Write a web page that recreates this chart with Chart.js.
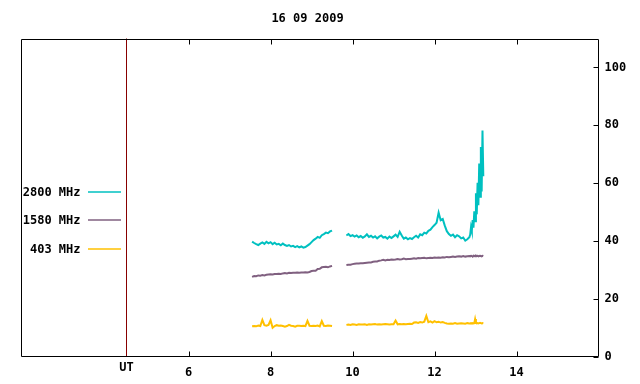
<!DOCTYPE html>
<html><head><meta charset="utf-8">
<script src="https://cdn.jsdelivr.net/npm/chart.js@4/dist/chart.umd.min.js"></script>
<style>html,body{margin:0;padding:0;background:#fff}#c{display:block}</style>
</head><body>
<canvas id="c" width="640" height="384"></canvas>
<script>
const chartTitle = "16 09 2009";
const seriesLabels = ["2800 MHz", "1580 MHz", "403 MHz"];
const xTickValues = [6, 8, 10, 12, 14];
const yTickValues = [0, 20, 40, 60, 80, 100];
const utMark = 4.47;
const xMin = 1.9, xMax = 16.0, yMin = 0, yMax = 110;

const times1 = [7.55,7.60,7.65,7.70,7.75,7.80,7.85,7.90,7.95,8.00,
8.05,8.10,8.15,8.20,8.25,8.30,8.35,8.40,8.45,8.50,
8.55,8.60,8.65,8.70,8.75,8.80,8.85,8.90,8.95,9.00,
9.05,9.10,9.15,9.20,9.25,9.30,9.35,9.40,9.45,9.50];
const times2 = [9.85,9.90,9.95,10.00,10.05,10.10,10.15,10.20,10.25,10.30,
10.35,10.40,10.45,10.50,10.55,10.60,10.65,10.70,10.75,10.80,
10.85,10.90,10.95,11.00,11.05,11.10,11.15,11.20,11.25,11.30,
11.35,11.40,11.45,11.50,11.55,11.60,11.65,11.70,11.75,11.80,
11.85,11.90,11.95,12.00,12.05,12.10,12.15,12.20,12.25,12.30,
12.35,12.40,12.45,12.50,12.55,12.60,12.65,12.70,12.75,12.80,
12.85,
12.87,12.89,12.91,12.93,12.95,12.97,12.99,13.01,13.03,13.05,
13.07,13.09,13.11,13.13,13.15,13.17,13.19];

const f2800a = [39.8,39.3,38.9,38.6,39.1,39.5,39.0,39.7,39.2,39.6,
38.9,39.4,38.8,39.0,38.5,39.1,38.6,38.3,38.6,38.1,
38.3,37.9,38.2,37.8,38.1,37.7,37.9,38.4,38.9,39.6,
40.3,40.8,41.4,41.1,42.0,42.4,42.9,42.7,43.3,43.6];
const f2800b = [41.9,42.4,41.7,42.0,41.5,41.9,41.3,41.7,41.1,41.6,
42.3,41.4,41.8,41.2,41.6,40.9,41.5,41.9,41.2,41.4,
40.8,41.5,41.0,41.6,42.2,41.4,43.2,41.9,40.8,41.2,
40.6,41.0,40.7,41.3,41.8,41.2,42.3,42.0,42.9,42.6,
43.5,43.9,44.8,45.5,46.3,49.8,47.2,47.6,45.3,43.4,
42.4,41.8,42.2,41.3,42.0,41.6,40.9,41.2,40.1,40.6,
41.3,
42.2,44.8,43.5,47.2,44.6,50.3,46.8,56.5,49.2,60.1,
52.4,66.8,55.3,72.5,57.1,78.2,62.4];

const f1580a = [27.6,27.9,27.8,28.1,28.0,28.2,28.1,28.3,28.4,28.5,
28.4,28.6,28.6,28.7,28.6,28.8,28.9,28.8,29.0,28.9,
29.0,29.0,29.1,29.0,29.1,29.1,29.2,29.1,29.3,29.6,
29.7,29.7,30.3,30.4,30.9,31.0,31.1,30.9,31.2,31.4];
const f1580b = [31.7,31.8,31.8,32.0,32.1,32.2,32.2,32.3,32.3,32.4,
32.5,32.6,32.6,32.8,32.9,32.9,33.2,33.3,33.5,33.3,
33.5,33.4,33.6,33.5,33.6,33.8,33.6,33.7,33.9,33.7,
33.8,33.8,33.9,34.0,33.9,34.1,34.0,34.1,34.2,34.0,
34.1,34.2,34.1,34.3,34.2,34.3,34.2,34.4,34.3,34.5,
34.4,34.5,34.6,34.5,34.6,34.7,34.6,34.8,34.6,34.7,
34.8,
34.7,34.9,34.8,34.6,34.9,34.8,34.7,34.9,34.8,34.9,
34.7,34.8,34.9,34.8,34.7,34.9,34.8];

const f403a = [10.5,10.6,10.5,10.8,10.6,12.7,10.9,10.7,11.0,12.6,
10.0,10.6,10.9,10.7,10.8,10.6,10.4,10.6,11.0,10.7,
10.6,10.4,10.7,10.7,10.6,10.7,10.6,12.4,10.7,10.6,
10.7,10.6,10.8,10.5,12.3,10.7,10.6,10.8,10.7,10.6];
const f403b = [11.0,11.1,11.0,11.2,11.1,11.0,11.2,11.1,11.1,11.2,
11.0,11.2,11.1,11.2,11.3,11.1,11.2,11.1,11.2,11.3,
11.2,11.1,11.2,11.2,12.5,11.2,11.3,11.2,11.3,11.2,
11.3,11.4,11.3,11.8,11.9,11.7,12.0,11.8,12.1,14.1,
11.9,12.2,11.8,12.3,11.9,12.1,11.8,12.0,11.7,11.5,
11.4,11.5,11.4,11.6,11.4,11.5,11.6,11.5,11.4,11.6,
11.5,
11.5,11.6,11.5,11.6,11.5,11.6,13.0,11.6,11.5,11.6,
11.5,11.6,11.7,11.6,11.5,11.6,11.5];

const colors = ["#00c0c0", "#806080", "#ffc000"];
const FONT = '"DejaVu Sans Mono", monospace';

function build(a, b) {
  const pts = times1.map((t, i) => ({x: t, y: a[i]}));
  pts.push({x: (times1[times1.length-1] + times2[0]) / 2, y: null});
  times2.forEach((t, i) => pts.push({x: t, y: b[i]}));
  return pts;
}

const decor = {
  id: 'decor',
  afterDraw(chart) {
    const ctx = chart.ctx, ca = chart.chartArea;
    const xs = chart.scales.x, ys = chart.scales.y;
    ctx.save();
    // UT line
    const ux = Math.round(xs.getPixelForValue(utMark)) + 0.5;
    ctx.strokeStyle = '#880000'; ctx.lineWidth = 1;
    ctx.beginPath(); ctx.moveTo(ux, ca.top); ctx.lineTo(ux, ca.bottom); ctx.stroke();
    // frame
    ctx.strokeStyle = '#000';
    ctx.beginPath();
    const L = Math.round(ca.left) + 0.5, R = Math.round(ca.right) - 0.5;
    const T = Math.round(ca.top) + 0.5, B = Math.round(ca.bottom) - 0.5;
    ctx.moveTo(L, B); ctx.lineTo(L, T); ctx.lineTo(R, T); ctx.lineTo(R, B); ctx.lineTo(L, B);
    ctx.stroke();
    // inward ticks
    ctx.beginPath();
    xTickValues.forEach(v => {
      const px = Math.round(xs.getPixelForValue(v)) + 0.5;
      ctx.moveTo(px, B); ctx.lineTo(px, B - 5);
      ctx.moveTo(px, T); ctx.lineTo(px, T + 5);
    });
    yTickValues.forEach(v => {
      const py = Math.round(ys.getPixelForValue(v)) + 0.5;
      ctx.moveTo(R, py); ctx.lineTo(R - 5, py);
    });
    ctx.stroke();
    // title
    ctx.fillStyle = '#000';
    ctx.font = 'bold 12px ' + FONT;
    ctx.textAlign = 'center'; ctx.textBaseline = 'middle';
    ctx.fillText(chartTitle, (ca.left + ca.right) / 2 - 2, 19);
    // UT label
    ctx.fillText('UT', ux, 368);
    // legend
    chart.data.datasets.forEach((ds, i) => {
      const y = ca.top + 153 + i * 28.5;
      ctx.textAlign = 'right';
      ctx.fillStyle = '#000';
      ctx.fillText(ds.label, ca.left + 60, y + 1);
      ctx.strokeStyle = ds.borderColor;
      ctx.lineWidth = 1.5;
      ctx.beginPath();
      ctx.moveTo(ca.left + 67.5, Math.round(y));
      ctx.lineTo(ca.left + 100.5, Math.round(y));
      ctx.stroke();
    });
    ctx.restore();
  }
};

new Chart(document.getElementById('c'), {
  type: 'line',
  data: {
    datasets: [
      {label: seriesLabels[0], data: build(f2800a, f2800b), borderColor: colors[0], borderWidth: 2},
      {label: seriesLabels[1], data: build(f1580a, f1580b), borderColor: colors[1], borderWidth: 2},
      {label: seriesLabels[2], data: build(f403a, f403b), borderColor: colors[2], borderWidth: 2}
    ]
  },
  options: {
    responsive: false,
    animation: false,
    devicePixelRatio: 1,
    spanGaps: false,
    elements: {point: {radius: 0}, line: {tension: 0}},
    layout: {padding: {top: 38.5, left: 20.5, right: 0, bottom: 0}},
    plugins: {legend: {display: false}, title: {display: false}, tooltip: {enabled: false}},
    scales: {
      x: {
        type: 'linear', min: xMin, max: xMax,
        grid: {display: false, drawTicks: false},
        border: {display: false},
        afterBuildTicks: s => { s.ticks = xTickValues.map(v => ({value: v})); },
        afterFit: s => { s.height = 27.3; },
        ticks: {padding: 9, color: '#000', font: {family: FONT, size: 12, weight: 'bold'}, maxRotation: 0, autoSkip: false}
      },
      y: {
        position: 'right', min: yMin, max: yMax,
        grid: {display: false, drawTicks: false},
        border: {display: false},
        afterBuildTicks: s => { s.ticks = yTickValues.map(v => ({value: v})); },
        afterFit: s => { s.width = 41.5; },
        ticks: {padding: 6, color: '#000', font: {family: FONT, size: 12, weight: 'bold'}}
      }
    }
  },
  plugins: [decor]
});
</script>
</body></html>
